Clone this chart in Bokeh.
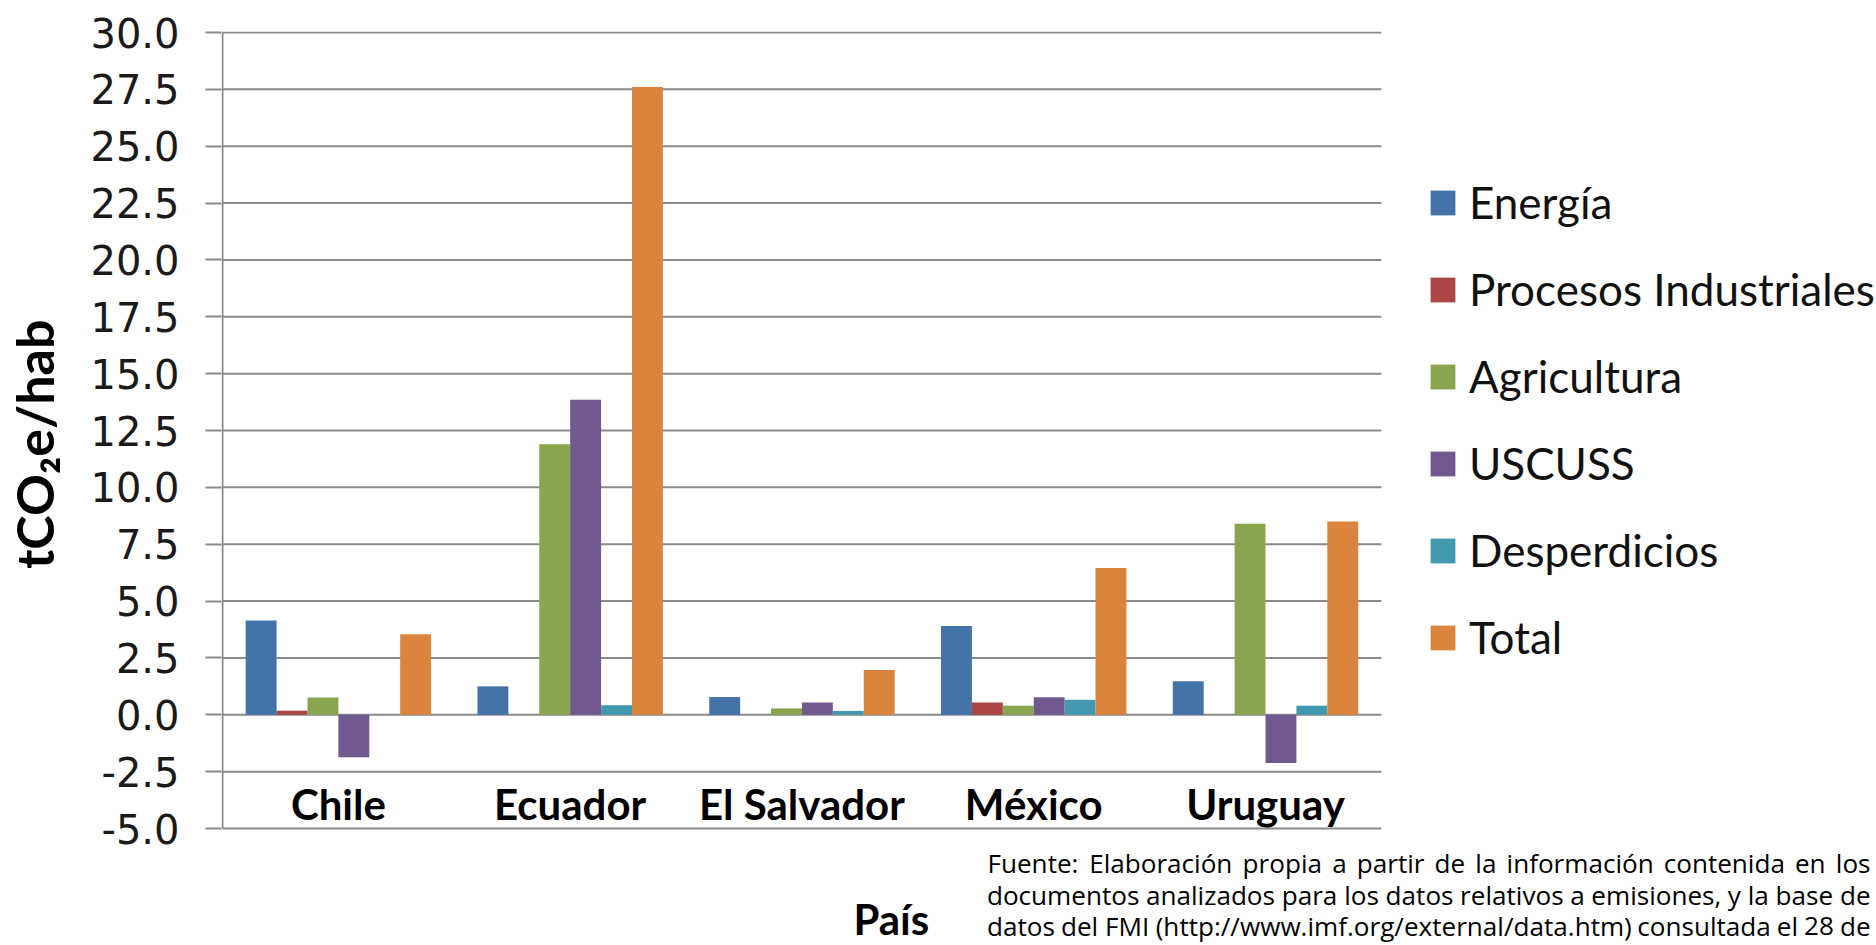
from bokeh.plotting import figure
from bokeh.models import (Range1d, FixedTicker, NumeralTickFormatter,
                          Legend, LegendItem, ColumnDataSource)
from bokeh.core.properties import value
from bokeh.embed import file_html
from bokeh.resources import INLINE

# ---------------- data ----------------
countries = ["Chile", "Ecuador", "El Salvador", "México", "Uruguay"]
series_names = ["Energía", "Procesos Industriales", "Agricultura", "USCUSS", "Desperdicios", "Total"]
energia = [4.15, 1.25, 0.78, 3.9, 1.48]
procesos = [0.18, 0.0, 0.0, 0.54, 0.0]
agricultura = [0.76, 11.9, 0.28, 0.4, 8.4]
uscuss = [-1.87, 13.85, 0.54, 0.77, -2.12]
desperdicios = [0.0, 0.42, 0.17, 0.66, 0.4]
total = [3.54, 27.6, 1.97, 6.45, 8.5]
y_ticks = [-5.0, -2.5, 0.0, 2.5, 5.0, 7.5, 10.0, 12.5, 15.0, 17.5, 20.0, 22.5, 25.0, 27.5, 30.0]
y_title = "tCO₂e/hab"
x_title = "País"
note_lines = [
    "Fuente: Elaboración propia a partir de la información contenida en los",
    "documentos analizados para los datos relativos a emisiones, y la base de",
    "datos del FMI (http://www.imf.org/external/data.htm) consultada el 28 de",
]

series = [energia, procesos, agricultura, uscuss, desperdicios, total]
colors = ["#4572A7", "#AA4643", "#89A54E", "#71588F", "#4198AF", "#DB843D"]

# ---------------- geometry (pixels of the page) ----------------
W, H = 1876, 945
AX_X, PLOT_R, PLOT_T, PLOT_B = 219, 1380, 32, 828     # plot area
FRAME_L, FRAME_T = 218, 31                            # drawing frame extends right/down
GRID = "#8a8a8a"
HUM = "Lato"
MID = 0.387            # text-box centre above the baseline, in em

ncat = len(countries)
pxu = (PLOT_R - AX_X) / ncat                  # px per category
y0, y1 = y_ticks[0], y_ticks[-1]
ppu = (PLOT_B - PLOT_T) / (y1 - y0)           # px per unit

def px2x(px):
    return (px - AX_X) / pxu

def py2y(py):
    return y1 - (py - PLOT_T) / ppu

p = figure(width=W, height=H,
           x_range=Range1d(px2x(FRAME_L), px2x(W)),
           y_range=Range1d(py2y(H), py2y(FRAME_T)),
           x_axis_location=None,
           output_backend="svg", toolbar_location=None,
           min_border_left=FRAME_L, min_border_right=0,
           min_border_top=FRAME_T, min_border_bottom=0)
p.outline_line_color = None
p.background_fill_color = "white"
p.border_fill_color = "white"
p.grid.visible = False

# y axis (library ticks and labels)
p.yaxis.ticker = FixedTicker(ticks=y_ticks)
p.yaxis.formatter = NumeralTickFormatter(format="0.0")
p.yaxis.major_tick_out = 16
p.yaxis.major_tick_in = 0
p.yaxis.minor_tick_line_color = None
p.yaxis.major_tick_line_color = GRID
p.yaxis.major_tick_line_width = 2
p.yaxis.axis_line_color = None
p.yaxis.major_label_standoff = 26
p.yaxis.major_label_text_font = "DejaVu Sans"
p.yaxis.major_label_text_font_size = "40px"
p.yaxis.major_label_text_color = "#1a1a1a"
# leading no-break spaces lift the centred title to where the reference has it
p.yaxis.axis_label = "\u00a0" * 7 + y_title
p.yaxis.axis_label_text_font = HUM
p.yaxis.axis_label_text_font_style = "bold"
p.yaxis.axis_label_text_font_size = "52px"
p.yaxis.axis_label_text_color = "#000000"
p.yaxis.axis_label_standoff = 22

# horizontal gridlines over the category extent, and the vertical axis line
p.segment(x0=[0] * len(y_ticks), x1=[ncat] * len(y_ticks), y0=y_ticks, y1=y_ticks,
          line_color=GRID, line_width=2)
p.segment(x0=[0], x1=[0], y0=[y0], y1=[y1], line_color=GRID, line_width=2)

# bars
bw = 0.8 / len(series)
items = []
for k, (name, vals) in enumerate(zip(series_names, series)):
    xs = [i + 0.5 + (k - (len(series) - 1) / 2) * bw for i in range(ncat)]
    src = ColumnDataSource(dict(x=xs, value=vals, country=countries))
    r = p.vbar(x="x", top="value", bottom=0, width=bw, source=src,
               fill_color=colors[k], line_color=None)
    items.append(LegendItem(label=name, renderers=[r]))

# category labels inside the plot area, just above its bottom line
CAT_FS = 42
p.text(x=[i + 0.5 for i in range(ncat)], y=[py2y(820 - MID * CAT_FS)] * ncat, text=countries,
       text_align="center", text_baseline="middle",
       text_font=value(HUM), text_font_style="bold", text_font_size=f"{CAT_FS}px",
       text_color="#000000")

# legend to the right of the plot area
legend = Legend(items=items, location=(1424 - FRAME_L, H - 665),
                glyph_width=31, glyph_height=31, label_standoff=11,
                label_text_font=HUM, label_text_font_size="44px",
                label_text_color="#111111", label_height=56, spacing=31,
                padding=0, margin=0, border_line_color=None,
                background_fill_alpha=0)
p.add_layout(legend)

# x title
XT_FS = 42
p.text(x=[px2x(889)], y=[py2y(935 - MID * XT_FS)], text=[x_title], text_align="center",
       text_baseline="middle", text_font=value(HUM), text_font_style="bold",
       text_font_size=f"{XT_FS}px", text_color="#000000")

# justified source note (Open Sans advance widths, per 1000 em)
OS = {' ': 260, '(': 296, ')': 296, ',': 246, '.': 266, '/': 371, ':': 266,
      'F': 555, 'M': 904, 'I': 297,
      'a': 556, 'b': 613, 'c': 476, 'd': 613, 'e': 561, 'f': 339, 'g': 548,
      'h': 614, 'i': 253, 'j': 253, 'k': 531, 'l': 253, 'm': 928, 'n': 614,
      'o': 604, 'p': 613, 'q': 613, 'r': 408, 's': 477, 't': 353, 'u': 614,
      'v': 497, 'w': 770, 'x': 520, 'y': 500, 'z': 469,
      'ó': 604, 'í': 253, 'á': 556, 'é': 561}

def em(s):
    return sum(OS.get(c, 571) for c in s) / 1000.0

NX0, NX1 = 985, 1870
baselines = [873, 905, 936]
fs = (NX1 - NX0) / em(note_lines[2]) * 1.005
wx, wy, wt = [], [], []
for line, by in zip(note_lines, baselines):
    words = line.split(" ")
    ws = [em(w) * fs for w in words]
    gap = (NX1 - NX0 - sum(ws)) / (len(words) - 1)
    x = NX0
    for w, ww in zip(words, ws):
        wx.append(px2x(x + ww / 2))
        wy.append(py2y(by - MID * fs))
        wt.append(w)
        x += ww + gap
p.text(x=wx, y=wy, text=wt, text_align="center", text_baseline="middle",
       text_font=value("Open Sans"), text_font_size=f"{fs:.1f}px", text_color="#000000")

open("out.html", "w").write(file_html(p, INLINE))
